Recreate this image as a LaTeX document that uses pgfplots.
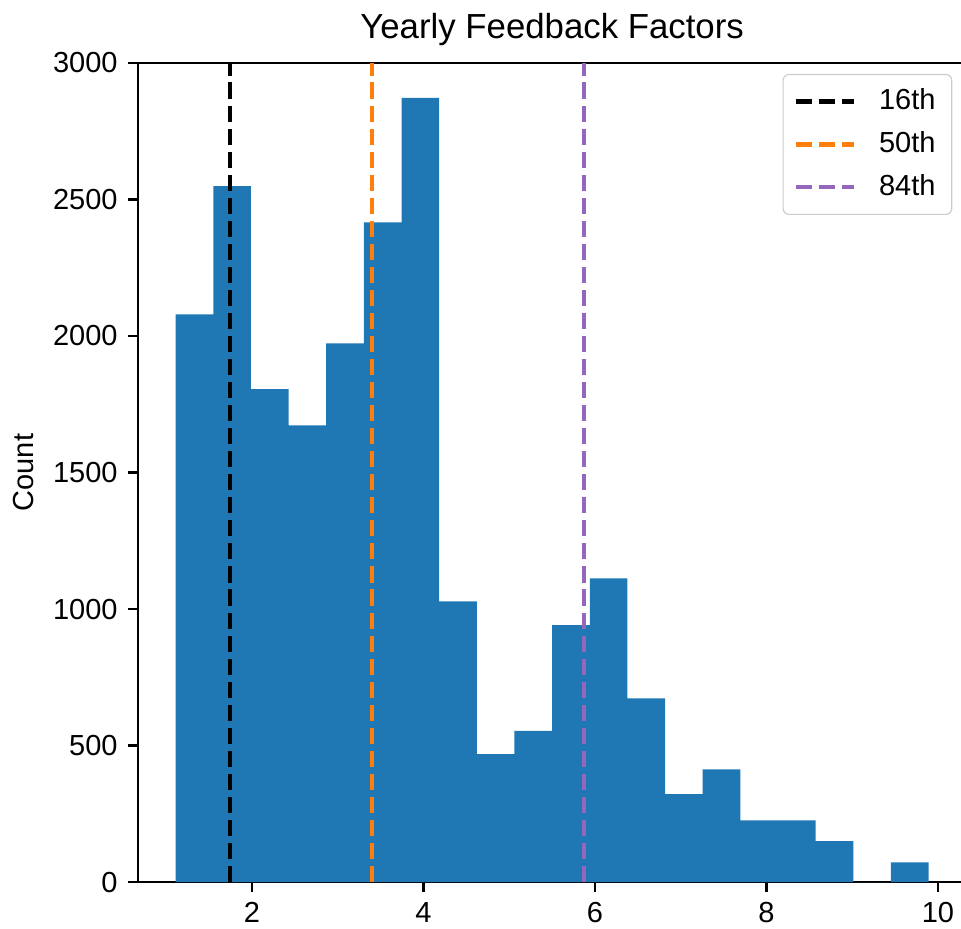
\documentclass[border=0pt]{standalone}
\usepackage{pgfplots}
\pgfplotsset{compat=1.18}
\usepackage{fontspec}
\setmainfont{Liberation Sans}
\definecolor{tabblue}{HTML}{1F77B4}
\definecolor{taborange}{HTML}{FF7F0E}
\definecolor{tabpurple}{HTML}{9467BD}
\begin{document}
\begin{tikzpicture}
\begin{axis}[
  scale only axis, width=285.7pt, height=282.6pt,
  xmin=0.672, xmax=10.33, ymin=0, ymax=3000,
  xtick={2,4,6,8,10}, ytick={0,500,1000,1500,2000,2500,3000},
  tick align=outside, tick pos=left, major tick length=3.5pt,
  tick style={line width=0.8pt, black},
  axis line style={line width=0.8pt},
  /pgf/number format/assume math mode=true,
  /pgf/number format/1000 sep={},
  scaled ticks=false,
  tick label style={font=\fontsize{10}{12}\selectfont},
  title={Yearly Feedback Factors},
  every axis title shift=0pt,
  title style={font=\fontsize{12}{14}\selectfont, at={(axis description cs:0.5,1)}, anchor=base, yshift=8.3pt},
  ylabel={Count},
  ylabel style={font=\fontsize{10}{12}\selectfont, at={(axis description cs:-0.1376,0.5)}, anchor=center},
  legend style={at={(axis description cs:1,1)}, anchor=north east, xshift=-4.8pt, yshift=-3.8pt,
    draw=black!20, rounded corners=2pt, font=\fontsize{10}{12}\selectfont, row sep=2pt,
    inner xsep=3.6pt, inner ysep=3pt},
  legend cell align=left,
  legend image code/.code={\draw[#1] (0pt,0pt) -- (20pt,0pt); \path (26pt,0pt);},
]
\addplot[ybar interval, fill=tabblue, draw=none, forget plot] coordinates {
(1.111,2079) (1.550,2549) (1.989,1805) (2.428,1673) (2.867,1973)
(3.306,2416) (3.745,2872) (4.184,1028) (4.623,469) (5.062,554)
(5.501,941) (5.940,1112) (6.379,673) (6.818,322) (7.257,413)
(7.696,226) (8.135,226) (8.574,150) (9.013,0) (9.452,72) (9.891,72)};
\addplot[black, line width=1.5pt, dash pattern=on 5.55pt off 2.4pt] coordinates {(1.743,0) (1.743,3000)};
\addlegendentry{16th}
\addplot[taborange, line width=1.5pt, dash pattern=on 5.55pt off 2.4pt] coordinates {(3.40,0) (3.40,3000)};
\addlegendentry{50th}
\addplot[tabpurple, line width=1.5pt, dash pattern=on 5.55pt off 2.4pt] coordinates {(5.87,0) (5.87,3000)};
\addlegendentry{84th}
\end{axis}
\pgfresetboundingbox
\useasboundingbox (-47.6pt,-15.9pt) rectangle (283.9pt,304.3pt);
\end{tikzpicture}
\end{document}
